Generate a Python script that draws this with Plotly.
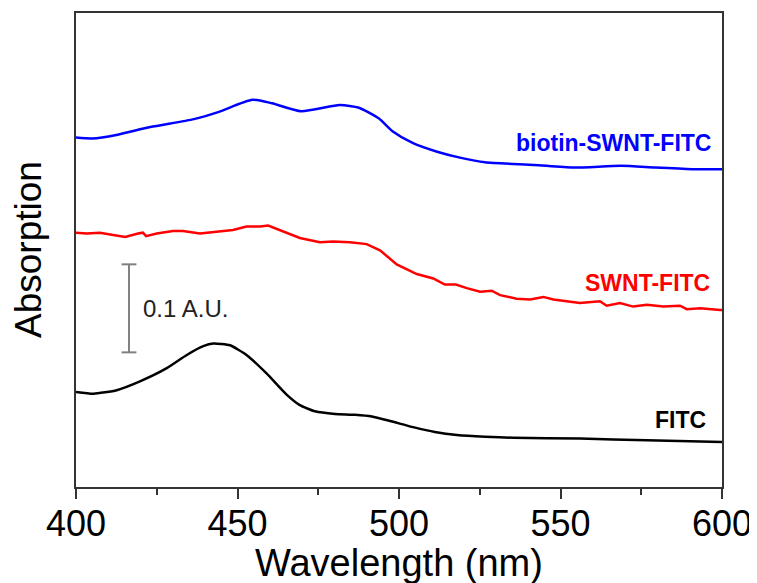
import plotly.graph_objects as go

# Wavelength (nm) / absorbance (arbitrary offset, A.U.)
blue_wl = [400, 405, 412.5, 423, 436.5, 444, 454.6, 460.7, 469.7, 481.7, 487.6, 493.7, 498.1,
           504.2, 511.8, 519.2, 526.6, 541.8, 553.9, 568.7, 579.3, 591.3, 600]
blue_abs = [0.397, 0.396, 0.400, 0.409, 0.418, 0.426, 0.440, 0.436, 0.427, 0.434, 0.431, 0.419, 0.404,
            0.391, 0.381, 0.374, 0.369, 0.366, 0.363, 0.365, 0.363, 0.361, 0.361]

red_wl = [400, 403.3, 407.4, 411.5, 415.2, 419.2, 420.7, 421.7, 425, 430, 433.1, 438.4, 443.6, 448.6,
          452.8, 457, 459.5, 464.1, 469.3, 475.5, 479.6, 484.8, 490, 494.1, 499.3, 505.5, 510.6,
          514.2, 517.6, 521, 525.1, 528.7, 531.3, 536.4, 540.6, 544.7, 547.8, 556, 562.2, 564.3,
          568.4, 572.5, 576.7, 581.8, 587, 589.1, 593.2, 599.4, 600]
red_abs = [0.289, 0.288, 0.289, 0.286, 0.284, 0.288, 0.289, 0.285, 0.288, 0.291, 0.291, 0.288, 0.290, 0.292,
           0.296, 0.296, 0.297, 0.290, 0.283, 0.278, 0.279, 0.278, 0.276, 0.269, 0.253, 0.242, 0.237,
           0.230, 0.230, 0.226, 0.222, 0.223, 0.218, 0.214, 0.213, 0.216, 0.213, 0.209, 0.211, 0.206,
           0.209, 0.205, 0.207, 0.205, 0.206, 0.202, 0.203, 0.201, 0.201]

black_wl = [400, 405.4, 412.6, 419.8, 428.1, 434.3, 439.4, 442.5, 447.7, 452.8, 459, 465.2, 469.3,
            474, 480.2, 486.4, 491.6, 497.2, 504.4, 511.1, 517.9, 526.6, 535.3, 556, 576.7, 600]
black_abs = [0.108, 0.106, 0.110, 0.120, 0.135, 0.150, 0.160, 0.163, 0.161, 0.150, 0.129, 0.105, 0.093,
             0.086, 0.083, 0.082, 0.080, 0.075, 0.068, 0.0625, 0.059, 0.057, 0.056, 0.055, 0.053, 0.051]

labels = ["biotin-SWNT-FITC", "SWNT-FITC", "FITC"]
label_wl = [597.2, 596.9, 595.8]
label_abs = [0.391, 0.2315, 0.076]
colors = ["#0000ff", "#ff0000", "#000000"]

x_ticks = [400, 450, 500, 550, 600]
scale_bar_wl = 416.4
scale_bar_abs = [0.153, 0.253]

FONT = "Arial, Liberation Sans, Helvetica, sans-serif"

fig = go.Figure()
fig.add_trace(go.Scatter(x=blue_wl, y=blue_abs, mode="lines",
                         line=dict(color=colors[0], width=2.5, shape="spline", smoothing=0.6),
                         showlegend=False))
fig.add_trace(go.Scatter(x=red_wl, y=red_abs, mode="lines",
                         line=dict(color=colors[1], width=2.5), showlegend=False))
fig.add_trace(go.Scatter(x=black_wl, y=black_abs, mode="lines",
                         line=dict(color=colors[2], width=2.5, shape="spline", smoothing=0.5),
                         showlegend=False))

for t, xw, ya, c in zip(labels, label_wl, label_abs, colors):
    fig.add_annotation(x=xw, y=ya, text=f"<b>{t}</b>", showarrow=False, xanchor="right",
                       yanchor="middle", font=dict(family=FONT, size=23, color=c))

# scale bar
fig.add_shape(type="line", x0=scale_bar_wl, x1=scale_bar_wl, y0=scale_bar_abs[0], y1=scale_bar_abs[1],
              line=dict(color="#808080", width=2))
for yv in scale_bar_abs:
    fig.add_shape(type="line", x0=scale_bar_wl - 2.3, x1=scale_bar_wl + 2.3, y0=yv, y1=yv,
                  line=dict(color="#808080", width=2))
fig.add_annotation(x=scale_bar_wl + 3.6, y=(scale_bar_abs[0] + scale_bar_abs[1]) / 2, text="0.1 A.U.",
                   showarrow=False, xanchor="left", yanchor="middle",
                   font=dict(family=FONT, size=24, color="#222222"))

# axis titles
fig.add_annotation(xref="paper", yref="paper", x=0.5, y=0, yshift=-76, text="Wavelength (nm)",
                   showarrow=False, xanchor="center", yanchor="middle",
                   font=dict(family=FONT, size=38, color="#000000"))
fig.add_annotation(xref="paper", yref="paper", x=0, xshift=-48, y=0.5, text="Absorption",
                   textangle=-90, showarrow=False, xanchor="center", yanchor="middle",
                   font=dict(family=FONT, size=37, color="#000000"))

# page body has an 8px default margin, so the figure is offset by (8, 8)
fig.update_layout(
    width=749, height=575,
    margin=dict(l=68, r=35, t=5, b=96, autoexpand=False),
    plot_bgcolor="white", paper_bgcolor="white",
    font=dict(family=FONT, color="#000000"),
    xaxis=dict(range=[400, 600], tickvals=x_ticks, ticks="outside", ticklen=10, tickwidth=1.5,
               tickcolor="#333333", showline=True, linecolor="#333333", linewidth=1.5, mirror=True,
               showgrid=False, zeroline=False, automargin=False, ticklabelstandoff=-6,
               tickfont=dict(family=FONT, size=36, color="#000000"),
               minor=dict(dtick=25, tick0=400, ticks="outside", ticklen=6, tickwidth=1.5,
                          tickcolor="#333333", showgrid=False)),
    yaxis=dict(range=[0, 0.5386], showticklabels=False, ticks="", showline=True, linecolor="#333333",
               linewidth=1.5, mirror=True, showgrid=False, zeroline=False, automargin=False),
)

fig.write_html("out.html")
